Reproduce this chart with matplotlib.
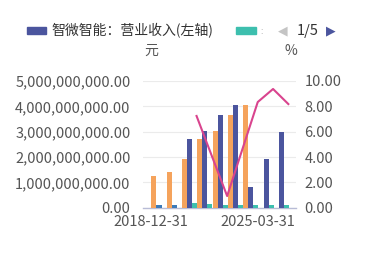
import numpy as np
import matplotlib
matplotlib.use("Agg")
import matplotlib.pyplot as plt
from matplotlib.ticker import FuncFormatter, FixedLocator
from matplotlib.patches import Rectangle

plt.rcParams['font.family'] = ['Noto Sans CJK SC', 'DejaVu Sans']

nan = np.nan
categories = ["2018-12-31", "2019-12-31", "2020-12-31", "2021-12-31", "2022-12-31",
              "2023-12-31", "2024-12-31", "2025-03-31", "2025-06-30", "2025-09-30"]
shown_labels = {0: "2018-12-31", 7: "2025-03-31"}

revenue_main = [nan, nan, 2.70e9, 3.03e9, 3.66e9, 4.04e9, 0.83e9, 1.94e9, 2.97e9, nan]   # dark blue
revenue_prev = [1.25e9, 1.39e9, 1.92e9, 2.70e9, 3.03e9, 3.66e9, 4.04e9, nan, nan, nan]   # orange
small_blue = [0.10e9, 0.10e9, nan, nan, nan, nan, nan, nan, nan, nan]
small_teal = [nan, nan, 0.17e9, 0.13e9, 0.11e9, 0.10e9, 0.09e9, 0.09e9, 0.09e9, nan]
ratio_pct = [nan, nan, nan, 7.24, nan, 0.92, nan, 8.34, 9.37, 8.18]

C_DARK = '#4b559e'
C_ORANGE = '#f5a35c'
C_TEAL = '#3dbfae'
C_MBLUE = '#3d7ab8'
C_PINK = '#d9448e'
C_TXT = '#555555'

W, H = 369, 276
fig = plt.figure(figsize=(W / 100, H / 100), dpi=100)
ax = fig.add_axes([143 / W, 1 - 207.7 / H, 153 / W, 126.7 / H])
ax2 = ax.twinx()

x = np.arange(len(categories))
bw = 0.33
ax.bar(x + 0.05, revenue_prev, width=bw, align='edge', color=C_ORANGE, zorder=3)
ax.bar(x + 0.38, revenue_main, width=bw, align='edge', color=C_DARK, zorder=3)
ax.bar(x + 0.38, small_blue, width=bw, align='edge', color=C_MBLUE, zorder=3)
ax.bar(x + 0.71, small_teal, width=bw, align='edge', color=C_TEAL, zorder=3)

r = np.array(ratio_pct)
m = ~np.isnan(r)
ax2.plot(x[m], r[m], color=C_PINK, lw=1.5, zorder=4)

ax.set_xlim(-0.5, len(categories) - 0.5)
ax.set_ylim(0, 5e9)
ax2.set_ylim(0, 10)
ax.yaxis.set_major_locator(FixedLocator(np.arange(0, 5.01e9, 1e9)))
ax2.yaxis.set_major_locator(FixedLocator(np.arange(0, 10.01, 2)))
ax.yaxis.set_major_formatter(FuncFormatter(lambda v, p: f"{v:,.2f}"))
ax2.yaxis.set_major_formatter(FuncFormatter(lambda v, p: f"{v:.2f}"))

ax.set_xticks(list(shown_labels.keys()))
ax.set_xticklabels(list(shown_labels.values()))

for a in (ax, ax2):
    for s in a.spines.values():
        s.set_visible(False)
    a.tick_params(length=0, labelsize=10.5, colors=C_TXT)
ax.spines['bottom'].set_visible(True)
ax.spines['bottom'].set_color('#b8bcd6')
ax.spines['bottom'].set_linewidth(1.0)
ax.tick_params(axis='y', pad=9)
ax2.tick_params(axis='y', pad=6)
ax.tick_params(axis='x', pad=5)
ax.grid(axis='y', color='#ebebeb', lw=0.8, zorder=0)
ax.set_axisbelow(True)
ax.patch.set_alpha(0)
ax2.set_zorder(ax.get_zorder() + 1)
ax2.patch.set_alpha(0)

# unit labels
fig.text(151 / W, 1 - 51 / H, "元", ha='center', va='center', fontsize=10, color=C_TXT)
fig.text(291 / W, 1 - 51 / H, "%", ha='center', va='center', fontsize=10, color=C_TXT)

# legend
fig.patches.append(Rectangle((27 / W, 1 - 34 / H), 19 / W, 7 / H, transform=fig.transFigure,
                             color=C_DARK))
fig.text(51 / W, 1 - 31 / H, "智微智能：营业收入(左轴)", ha='left', va='center',
         fontsize=10, color='#333333')
fig.patches.append(Rectangle((236 / W, 1 - 34 / H), 20 / W, 7 / H, transform=fig.transFigure,
                             color=C_TEAL))
fig.text(260 / W, 1 - 31 / H, ":", ha='left', va='center', fontsize=6, color='#999999')
fig.text(283 / W, 1 - 31 / H, "◀", ha='center', va='center', fontsize=9, color='#c4c4c4',
         family=['DejaVu Sans'])
fig.text(308 / W, 1 - 31 / H, "1/5", ha='center', va='center', fontsize=10.5, color='#333333')
fig.text(331 / W, 1 - 31 / H, "▶", ha='center', va='center', fontsize=9, color=C_DARK,
         family=['DejaVu Sans'])

fig.savefig("out.png", dpi=100)
